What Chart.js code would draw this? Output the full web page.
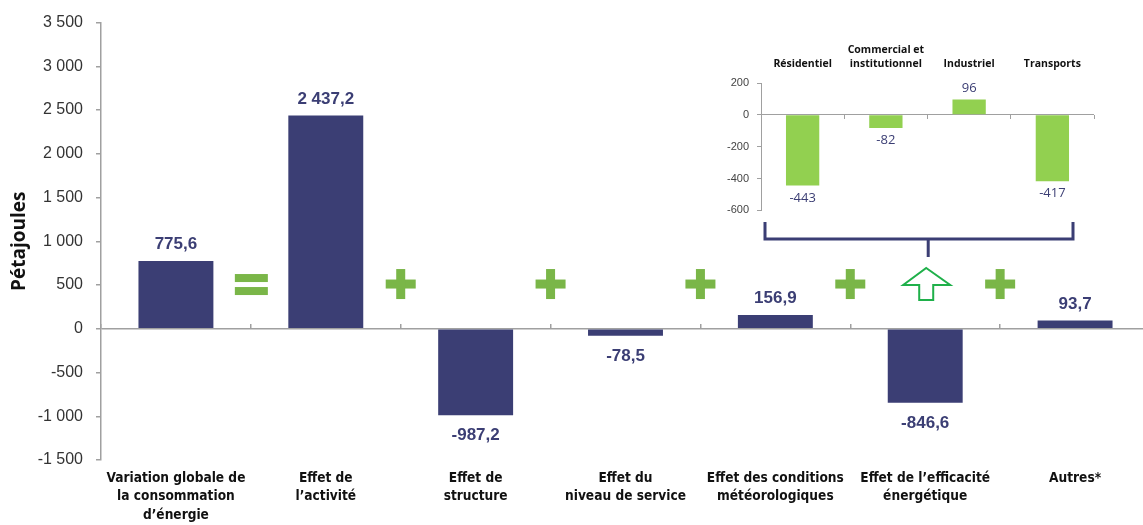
<!DOCTYPE html>
<html>
<head>
<meta charset="utf-8">
<script src="https://cdn.jsdelivr.net/npm/chart.js@4/dist/chart.umd.min.js"></script>
<style>
  html, body { margin: 0; padding: 0; background: #fff; overflow: hidden; }
  #wrap { position: relative; width: 1152px; height: 525px; }
  #main { position: absolute; left: 0; top: 0; }
  #inset { position: absolute; left: 700px; top: 40px; }
</style>
</head>
<body>
<div id="wrap">
  <canvas id="main" width="1152" height="525"></canvas>
  <canvas id="inset" width="410" height="185"></canvas>
</div>
<script>
// main chart data
const categories = [
  ["Variation globale de", "la consommation", "d’énergie"],
  ["Effet de", "l’activité"],
  ["Effet de", "structure"],
  ["Effet du", "niveau de service"],
  ["Effet des conditions", "météorologiques"],
  ["Effet de l’efficacité", "énergétique"],
  ["Autres*"]
];
const values = [775.6, 2437.2, -987.2, -78.5, 156.9, -846.6, 93.7];
const yMin = -1500, yMax = 3500, yStep = 500;

// inset: breakdown of the efficiency effect by sector
const sectors = ["Résidentiel", ["Commercial et", "institutionnel"], "Industriel", "Transports"];
const sectorValues = [-443, -82, 96, -417];
const insetMin = -600, insetMax = 200, insetStep = 200;

const NAVY = '#3b3e74';
const GREEN = '#92d050';
const PLUS = '#7ab648';
const ARROW = '#1fb04a';
const narrow = "'Liberation Sans Narrow', 'DejaVu Sans Condensed', sans-serif";

function fmt(v, dec) {
  const neg = v < 0;
  let s = Math.abs(v).toFixed(dec);
  let [i, d] = s.split('.');
  i = i.replace(/\B(?=(\d{3})+(?!\d))/g, ' ');
  return (neg ? '-' : '') + i + (d ? ',' + d : '');
}

// value labels above / below bars
function valueLabels(dec, font, gapUp, gapDown) {
  return {
    id: 'valueLabels',
    afterDatasetsDraw(chart) {
      const ctx = chart.ctx;
      const meta = chart.getDatasetMeta(0);
      const data = chart.data.datasets[0].data;
      ctx.save();
      ctx.font = font;
      ctx.fillStyle = NAVY;
      ctx.textAlign = 'center';
      meta.data.forEach((bar, i) => {
        const v = data[i];
        if (v >= 0) {
          ctx.textBaseline = 'bottom';
          ctx.fillText(fmt(v, dec), bar.x, bar.y - gapUp);
        } else {
          ctx.textBaseline = 'top';
          ctx.fillText(fmt(v, dec), bar.x, bar.y + gapDown);
        }
      });
      ctx.restore();
    }
  };
}

// = and + signs, bracket and arrow
const decorations = {
  id: 'decorations',
  afterDraw(chart) {
    const ctx = chart.ctx;
    const x = chart.scales.x, y = chart.scales.y;
    const half = (x.getPixelForValue(1) - x.getPixelForValue(0)) / 2;
    const sy = y.getPixelForValue(500) - 1;
    ctx.save();
    ctx.fillStyle = PLUS;
    // equals between first and second
    const ex = x.getPixelForValue(0) + half;
    ctx.fillRect(ex - 16, sy - 10, 33, 8);
    ctx.fillRect(ex - 16, sy + 3, 33, 8);
    // plus signs between the effects
    for (let i = 1; i < categories.length - 1; i++) {
      const px = x.getPixelForValue(i) + half;
      ctx.fillRect(px - 15, sy - 4.5, 30, 9);
      ctx.fillRect(px - 4.5, sy - 15, 9, 30);
    }
    // bracket under the inset
    const cx = x.getPixelForValue(5) + 3;
    ctx.strokeStyle = NAVY;
    ctx.lineWidth = 3;
    ctx.beginPath();
    ctx.moveTo(765, 222);
    ctx.lineTo(765, 239);
    ctx.lineTo(1073, 239);
    ctx.lineTo(1073, 222);
    ctx.moveTo(cx, 239);
    ctx.lineTo(cx, 257);
    ctx.stroke();
    // outlined up arrow
    ctx.strokeStyle = ARROW;
    ctx.lineWidth = 2;
    const top = 268;
    ctx.beginPath();
    ctx.moveTo(cx - 2, top);
    ctx.lineTo(cx + 22, top + 17);
    ctx.lineTo(cx + 5, top + 17);
    ctx.lineTo(cx + 5, top + 32);
    ctx.lineTo(cx - 9, top + 32);
    ctx.lineTo(cx - 9, top + 17);
    ctx.lineTo(cx - 25, top + 17);
    ctx.closePath();
    ctx.stroke();
    ctx.restore();
  }
};

new Chart(document.getElementById('main'), {
  type: 'bar',
  data: {
    labels: categories,
    datasets: [{
      data: values,
      backgroundColor: NAVY,
      barPercentage: 0.5,
      categoryPercentage: 1.0
    }]
  },
  options: {
    responsive: false,
    animation: false,
    layout: { padding: { top: 22, right: 2, left: 0, bottom: 0 } },
    plugins: { legend: { display: false }, tooltip: { enabled: false } },
    scales: {
      x: {
        position: 'bottom',
        grid: { display: false },
        border: { display: false },
        ticks: {
          color: '#111',
          padding: 1,
          maxRotation: 0,
          autoSkip: false,
          font: { family: narrow, size: 13.6, weight: 'bold', lineHeight: 1.36 }
        },
        afterFit(s) { s.height = 65; }
      },
      x2: {
        type: 'category',
        labels: categories.map((_, i) => String(i)),
        position: { y: 0 },
        offset: true,
        ticks: { display: false },
        grid: { drawOnChartArea: false, offset: true, tickLength: -5, color: '#a0a0a0', lineWidth: 1.5 },
        border: { display: false }
      },
      y: {
        min: yMin,
        max: yMax,
        ticks: {
          stepSize: yStep,
          color: '#333',
          padding: 13,
          font: { family: "'Liberation Sans', Arial, sans-serif", size: 16 },
          callback: v => fmt(v, 0)
        },
        grid: {
          color: c => c.tick && c.tick.value === 0 ? '#a0a0a0' : 'transparent',
          lineWidth: 1.5,
          tickColor: '#a0a0a0',
          tickLength: 5
        },
        border: { color: '#a0a0a0', width: 1.5 },
        title: {
          display: true,
          text: 'Pétajoules',
          color: '#111',
          padding: { top: 8, bottom: 0 },
          font: { family: "'Open Sans', sans-serif", size: 19, weight: 'bold' }
        },
        afterFit(s) { s.width = 101; }
      }
    }
  },
  plugins: [valueLabels(1, "bold 17px 'Liberation Sans', Arial, sans-serif", 8, 12), decorations]
});

new Chart(document.getElementById('inset'), {
  type: 'bar',
  data: {
    labels: sectors,
    datasets: [{
      data: sectorValues,
      backgroundColor: GREEN,
      barPercentage: 0.4,
      categoryPercentage: 1.0
    }]
  },
  options: {
    responsive: false,
    animation: false,
    layout: { padding: { top: 0, right: 16, left: 0, bottom: 13 } },
    plugins: { legend: { display: false }, tooltip: { enabled: false } },
    scales: {
      x: {
        position: 'top',
        grid: { display: false },
        border: { display: false },
        ticks: {
          color: '#111',
          padding: 4,
          maxRotation: 0,
          autoSkip: false,
          font: { family: "'Open Sans', sans-serif", size: 10.5, weight: 'bold', lineHeight: 1.35 }
        },
        afterFit(s) { s.height = 43; }
      },
      x2: {
        type: 'category',
        labels: sectors.map((_, i) => String(i)),
        position: { y: 0 },
        offset: true,
        ticks: { display: false },
        grid: { drawOnChartArea: false, offset: true, tickLength: 4, color: '#a0a0a0' },
        border: { display: false }
      },
      y: {
        min: insetMin,
        max: insetMax,
        ticks: {
          stepSize: insetStep,
          color: '#444',
          padding: 8,
          font: { family: "'Liberation Sans', Arial, sans-serif", size: 11 },
          callback: v => fmt(v, 0)
        },
        grid: {
          color: c => c.tick && c.tick.value === 0 ? '#a0a0a0' : 'transparent',
          tickColor: '#a0a0a0',
          tickLength: 4
        },
        border: { color: '#a0a0a0' },
        afterFit(s) { s.width = 61; }
      }
    }
  },
  plugins: [valueLabels(0, "13px 'Open Sans', sans-serif", 5, 6)]
});
</script>
</body>
</html>
